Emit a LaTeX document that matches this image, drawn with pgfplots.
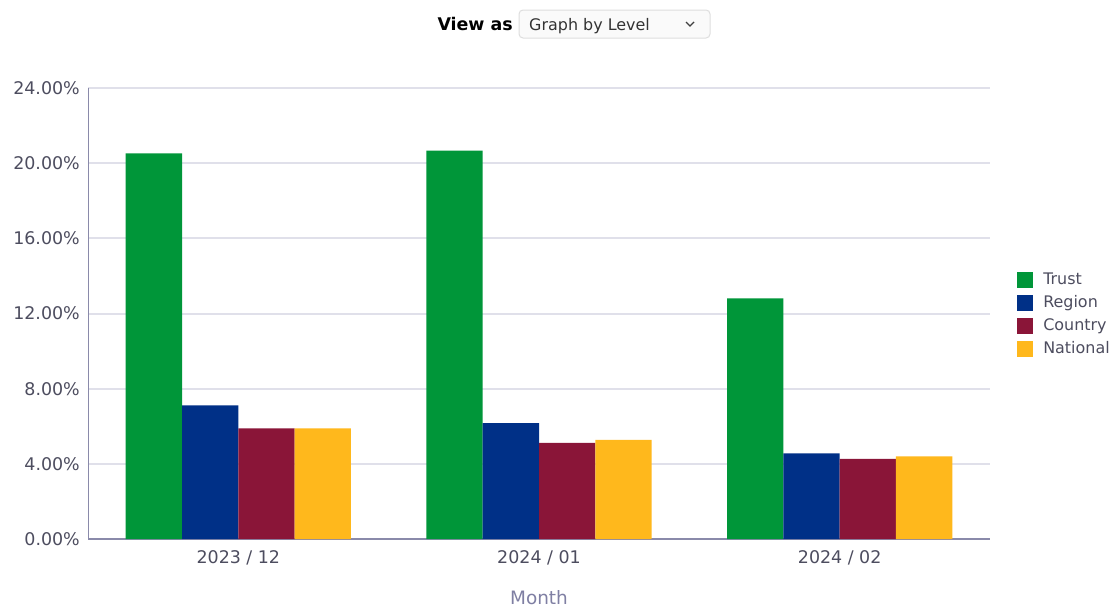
\documentclass[border=0pt]{standalone}
\usepackage{pgfplots}
\pgfplotsset{compat=1.18}
\usepackage{fontspec}
\setmainfont{DejaVu Sans}
\definecolor{trust}{HTML}{009639}
\definecolor{region}{HTML}{003087}
\definecolor{country}{HTML}{8A1538}
\definecolor{national}{HTML}{FFB81C}
\definecolor{gridc}{HTML}{E0E0EA}
\definecolor{axisc}{HTML}{8A8AAA}
\definecolor{tickc}{HTML}{4D4D5F}
\definecolor{monthc}{HTML}{7F7FA3}
\begin{document}
\begin{tikzpicture}
\fill[white] (0bp,0bp) rectangle (1116bp,-607bp);
\path[use as bounding box] (0bp,0bp) rectangle (1116bp,-607bp);
% header
\node[anchor=base east, inner sep=0pt, font=\bfseries\fontsize{17.5}{20}\selectfont] at (513bp,-30bp) {View as};
\draw[rounded corners=4bp, draw=black!13, fill=black!2, line width=1bp] (519bp,-10bp) rectangle (710bp,-38bp);
\node[anchor=base west, inner sep=0pt, text=black!80, font=\fontsize{16}{19}\selectfont] at (529bp,-30bp) {Graph by Level};
\draw[line width=1.4bp, black!75] (686bp,-22bp) -- (690bp,-26bp) -- (694bp,-22bp);
\begin{axis}[
  at={(88bp,-539bp)}, anchor=south west,
  width=902bp, height=451bp, scale only axis,
  xmin=-0.5, xmax=2.5, ymin=0, ymax=24,
  ybar=0pt, bar width=56.3bp,
  ytick={0,4,8,12,16,20,24},
  yticklabel={\pgfmathprintnumber[fixed,fixed zerofill,precision=2]{\tick}\%},
  xtick={0,1,2}, xticklabels={2023 / 12, 2024 / 01, 2024 / 02},
  axis x line=bottom, axis y line=left,
  axis line style={-},
  x axis line style={draw=axisc, line width=2bp},
  y axis line style={draw=axisc, line width=1bp},
  major tick length=0pt,
  ymajorgrids, grid style={draw=gridc, line width=2bp},
  tick label style={text=tickc, font=\fontsize{17.5}{20}\selectfont},
  yticklabel style={anchor=east, inner sep=0pt, xshift=-8bp},
  xticklabel style={anchor=north, inner sep=0pt, yshift=-11bp},
  /pgf/number format/assume math mode=true,
  xlabel={Month},
  xlabel style={at={(axis description cs:0.5,0)}, anchor=base, yshift=-65bp, inner sep=0pt, text=monthc, font=\fontsize{18.5}{21}\selectfont},
  legend style={at={(axis description cs:1.03,0.592)}, anchor=north west, draw=none, fill=none, inner sep=0pt,
    font=\fontsize{16}{19}\selectfont, text=tickc, row sep=7bp,
    nodes={inner sep=0pt, text height=12bp, text depth=3bp}},
  legend cell align=left,
  legend image code/.code={\fill[#1] (0bp,-8bp) rectangle (16bp,8bp); \path (26bp,0bp);},
]
\addplot[fill=trust, draw=none] coordinates {(0,20.52) (1,20.67) (2,12.81)};
\addplot[fill=region, draw=none] coordinates {(0,7.11) (1,6.17) (2,4.56)};
\addplot[fill=country, draw=none] coordinates {(0,5.89) (1,5.11) (2,4.26)};
\addplot[fill=national, draw=none] coordinates {(0,5.89) (1,5.27) (2,4.40)};
\legend{Trust, Region, Country, National}
\end{axis}
\end{tikzpicture}
\end{document}
